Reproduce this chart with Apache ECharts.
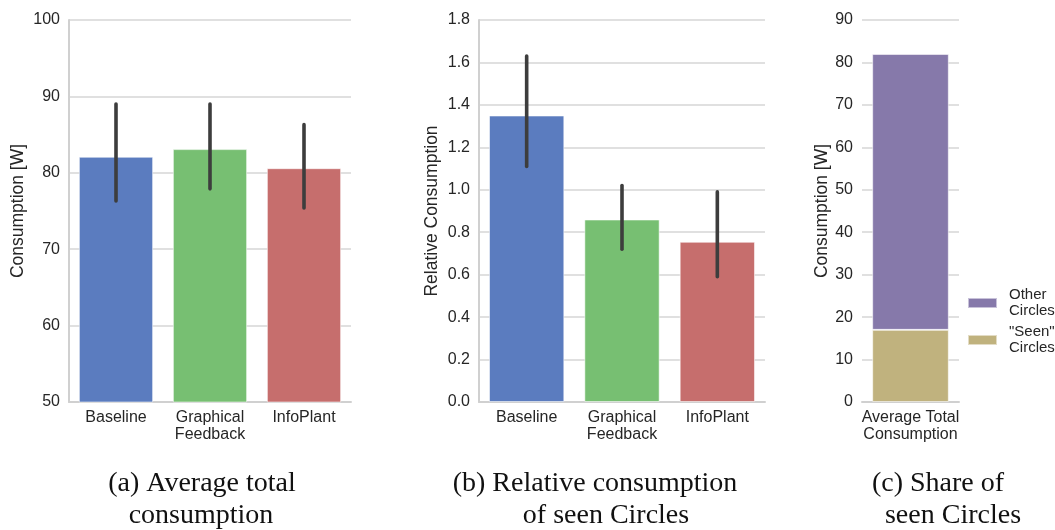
<!DOCTYPE html>
<html>
<head>
<meta charset="utf-8">
<script src="https://cdn.jsdelivr.net/npm/echarts@6/dist/echarts.min.js"></script>
<style>
  html, body { margin: 0; padding: 0; background: #fff; }
  #chart { width: 1055px; height: 530px; }
</style>
</head>
<body>
<div id="chart"></div>
<script>
// Conditions compared in panels (a) and (b)
const groups = ['Baseline', 'Graphical\nFeedback', 'InfoPlant'];
const groupColors = ['#5b7cbf', '#77bf72', '#c66e6d'];

// (a) Average total consumption [W] with confidence interval
const totalMean = [82.1, 83.1, 80.6];
const totalLow = [76.3, 77.9, 75.4];
const totalHigh = [89.0, 89.0, 86.3];

// (b) Relative consumption of seen Circles with confidence interval
const relMean = [1.35, 0.86, 0.755];
const relLow = [1.11, 0.72, 0.59];
const relHigh = [1.63, 1.02, 0.99];

// (c) Share of seen Circles within average total consumption [W]
const shareCategory = ['Average Total\nConsumption'];
const seenShare = [17];
const otherShare = [65];

// Axis tick settings
const totalAxis = { min: 50, max: 100, interval: 10 };
const relAxis = { min: 0, max: 1.8, interval: 0.2 };
const shareAxis = { min: 0, max: 90, interval: 10 };

// Sub-figure captions
const captions = [
  { lines: ['(a) Average total', 'consumption'], x: [202, 201] },
  { lines: ['(b) Relative consumption', 'of seen Circles'], x: [595, 606] },
  { lines: ['(c) Share of', 'seen Circles'], x: [938, 953] }
];

const textColor = '#262626';
const gridColor = '#d6d6d6';
const spineColor = '#d0d0d0';
const sans = 'Liberation Sans';
const serifFont = '28px "Liberation Serif"';

function catAxis(gridIndex, data) {
  return {
    type: 'category', gridIndex, data,
    axisLine: { show: true, lineStyle: { color: spineColor, width: 2 } },
    axisTick: { show: false },
    axisLabel: { color: textColor, fontFamily: sans, fontSize: 16, margin: 7, lineHeight: 17 }
  };
}
function valAxis(gridIndex, range, name, nameGap, showSpine, fmt) {
  return {
    type: 'value', gridIndex, min: range.min, max: range.max, interval: range.interval,
    name, nameLocation: 'middle', nameGap,
    nameTextStyle: { color: textColor, fontFamily: sans, fontSize: 17.5 },
    axisLine: { show: showSpine, lineStyle: { color: spineColor, width: 2 } },
    axisTick: { show: false },
    splitLine: { show: true, lineStyle: { color: gridColor, width: 1.5 } },
    axisLabel: { color: textColor, fontFamily: sans, fontSize: 16, margin: 9, formatter: fmt }
  };
}
function coloredBars(values) {
  return values.map((v, i) => ({ value: v, itemStyle: { color: groupColors[i] } }));
}
function errorBars(idx, low, high) {
  return {
    type: 'custom', xAxisIndex: idx, yAxisIndex: idx, z: 5,
    data: low.map((l, i) => [i, l, high[i]]),
    encode: { x: 0, y: [1, 2] },
    renderItem: function (params, api) {
      const a = api.coord([api.value(0), api.value(1)]);
      const b = api.coord([api.value(0), api.value(2)]);
      return {
        type: 'line',
        shape: { x1: a[0], y1: a[1], x2: b[0], y2: b[1] },
        style: { stroke: '#3d3d3d', lineWidth: 3.6, lineCap: 'round' }
      };
    }
  };
}

const captionGraphics = [];
captions.forEach(c => {
  c.lines.forEach((line, k) => {
    captionGraphics.push({
      type: 'text', x: c.x[k], y: 484 + k * 32,
      style: { text: line, font: serifFont, fill: '#111', textAlign: 'center', textVerticalAlign: 'middle' }
    });
  });
});

const chart = echarts.init(document.getElementById('chart'), null, { renderer: 'canvas' });

const barEdge = { borderColor: 'rgba(255,255,255,0.55)', borderWidth: 1 };

chart.setOption({
  animation: false,
  backgroundColor: '#ffffff',
  grid: [
    { left: 69, top: 20, width: 282, height: 382 },
    { left: 479, top: 20, width: 286, height: 382 },
    { left: 862, top: 20, width: 97, height: 382 }
  ],
  xAxis: [catAxis(0, groups), catAxis(1, groups), catAxis(2, shareCategory)],
  yAxis: [
    valAxis(0, totalAxis, 'Consumption [W]', 42, true),
    valAxis(1, relAxis, 'Relative Consumption', 38, true, v => v.toFixed(1)),
    valAxis(2, shareAxis, 'Consumption [W]', 31, false)
  ],
  legend: {
    left: 962, top: 282, orient: 'vertical',
    icon: 'rect', itemWidth: 29, itemHeight: 10, itemGap: 5,
    textStyle: { color: textColor, fontFamily: sans, fontSize: 15, lineHeight: 16, padding: [0, 0, 0, 7] },
    data: ['Other\nCircles', '"Seen"\nCircles']
  },
  series: [
    { type: 'bar', xAxisIndex: 0, yAxisIndex: 0, barWidth: '79%', itemStyle: barEdge,
      data: coloredBars(totalMean) },
    errorBars(0, totalLow, totalHigh),
    { type: 'bar', xAxisIndex: 1, yAxisIndex: 1, barWidth: '79%', itemStyle: barEdge,
      data: coloredBars(relMean) },
    errorBars(1, relLow, relHigh),
    { name: '"Seen"\nCircles', type: 'bar', stack: 'share', xAxisIndex: 2, yAxisIndex: 2,
      barWidth: '79%', itemStyle: Object.assign({ color: '#c0b27e' }, barEdge), data: seenShare },
    { name: 'Other\nCircles', type: 'bar', stack: 'share', xAxisIndex: 2, yAxisIndex: 2,
      barWidth: '79%', itemStyle: Object.assign({ color: '#8679aa' }, barEdge), data: otherShare }
  ],
  graphic: captionGraphics
});
</script>
</body>
</html>
